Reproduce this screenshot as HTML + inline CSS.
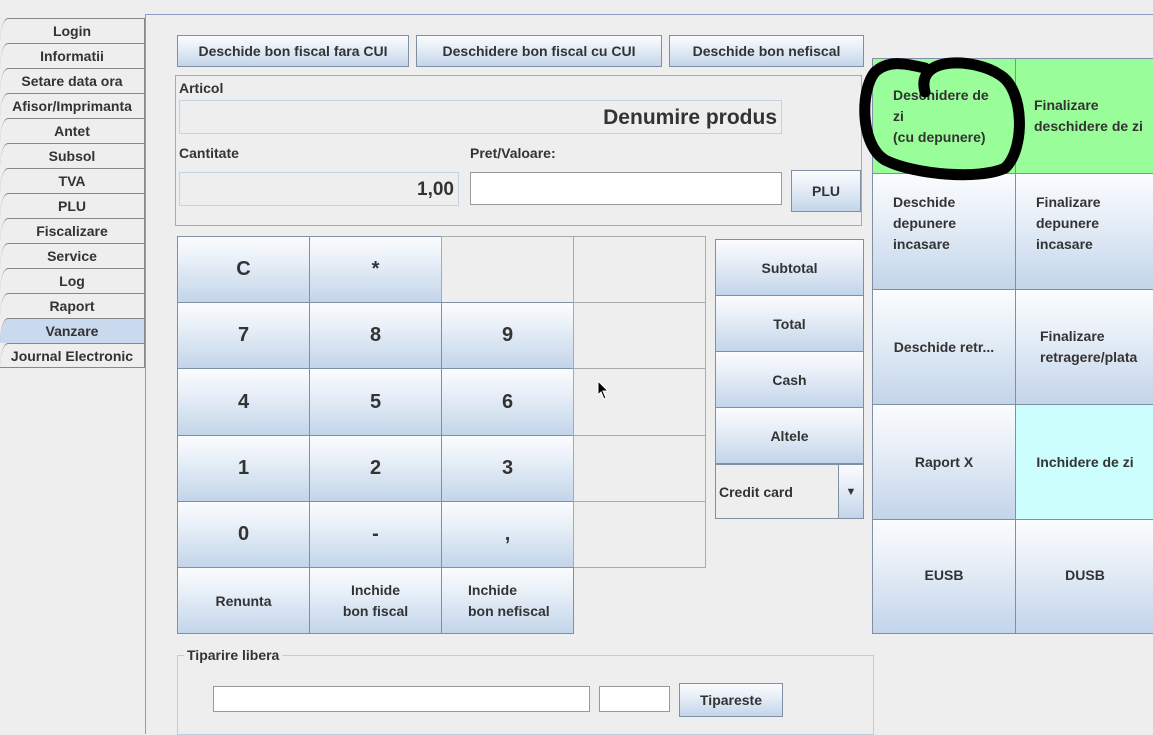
<!DOCTYPE html>
<html><head><meta charset="utf-8"><style>
*{box-sizing:border-box;margin:0;padding:0}
body{width:1153px;height:720px;overflow:hidden;background:#eeeeee;position:relative;font-family:"Liberation Sans Narrow","Liberation Sans",sans-serif;font-weight:bold;color:#333}
.a{position:absolute}
.b{position:absolute;border:1px solid #7f8fa4;background:linear-gradient(#fbfcfe 0%,#e9f0f8 35%,#c3d5ea 100%);display:flex;align-items:center;justify-content:center;text-align:center;font-size:14px;color:#333}
.k{font-size:20px}
.f{position:absolute;border:1px solid #aaa;background:#eeeeee}
.t{position:absolute;left:0;width:145px;height:25px;border-top:1px solid #888;border-right:1px solid #888;text-align:center;font-size:14px;line-height:24px;border-top-left-radius:8px 24px}
.g{position:absolute;border:1px solid #7f8fa4;display:flex;align-items:center;font-size:14px;padding-bottom:16px;line-height:21px;background:linear-gradient(#fbfcfe 0%,#e9f0f8 35%,#c3d5ea 100%)}
.lbl{position:absolute;font-size:14px;color:#333}
</style></head><body>
<div class="a" style="left:145px;top:14px;width:1010px;height:720px;border-left:1px solid #8a9cc0;border-top:1px solid #8a9cc0"></div>

<div class="t" style="top:18px">Login</div>
<div class="t" style="top:43px">Informatii</div>
<div class="t" style="top:68px">Setare data ora</div>
<div class="t" style="top:93px">Afisor/Imprimanta</div>
<div class="t" style="top:118px">Antet</div>
<div class="t" style="top:143px">Subsol</div>
<div class="t" style="top:168px">TVA</div>
<div class="t" style="top:193px">PLU</div>
<div class="t" style="top:218px">Fiscalizare</div>
<div class="t" style="top:243px">Service</div>
<div class="t" style="top:268px">Log</div>
<div class="t" style="top:293px">Raport</div>
<div class="t" style="top:318px;background:#c9d9ee">Vanzare</div>
<div class="t" style="top:343px;border-bottom:1px solid #888;height:25px">Journal Electronic</div>

<div class="b" style="left:177px;top:35px;width:232px;height:32px">Deschide bon fiscal fara CUI</div>
<div class="b" style="left:416px;top:35px;width:246px;height:32px">Deschidere bon fiscal cu CUI</div>
<div class="b" style="left:669px;top:35px;width:195px;height:32px">Deschide bon nefiscal</div>

<div class="a" style="left:175px;top:75px;width:687px;height:151px;border:1px solid #aaa"></div>
<div class="lbl" style="left:179px;top:80px">Articol</div>
<div class="a" style="left:179px;top:100px;width:603px;height:34px;border:1px solid #c5d3e0;font-size:21px;text-align:right;padding-right:4px;line-height:33px">Denumire produs</div>
<div class="lbl" style="left:179px;top:145px">Cantitate</div>
<div class="lbl" style="left:470px;top:145px">Pret/Valoare:</div>
<div class="a" style="left:179px;top:172px;width:280px;height:34px;border:1px solid #c5d3e0;font-size:19px;text-align:right;padding-right:4px;line-height:33px">1,00</div>
<div class="a" style="left:470px;top:172px;width:312px;height:33px;border:1px solid #999;background:#fff"></div>
<div class="b" style="left:791px;top:170px;width:70px;height:42px">PLU</div>

<div class="b k" style="left:177px;top:236px;width:133px;height:67px">C</div>
<div class="b k" style="left:309px;top:236px;width:133px;height:67px">*</div>
<div class="f" style="left:441px;top:236px;width:133px;height:67px"></div>
<div class="f" style="left:573px;top:236px;width:133px;height:67px"></div>
<div class="b k" style="left:177px;top:302px;width:133px;height:67px">7</div>
<div class="b k" style="left:309px;top:302px;width:133px;height:67px">8</div>
<div class="b k" style="left:441px;top:302px;width:133px;height:67px">9</div>
<div class="f" style="left:573px;top:302px;width:133px;height:67px"></div>
<div class="b k" style="left:177px;top:368px;width:133px;height:68px">4</div>
<div class="b k" style="left:309px;top:368px;width:133px;height:68px">5</div>
<div class="b k" style="left:441px;top:368px;width:133px;height:68px">6</div>
<div class="f" style="left:573px;top:368px;width:133px;height:68px"></div>
<div class="b k" style="left:177px;top:435px;width:133px;height:67px">1</div>
<div class="b k" style="left:309px;top:435px;width:133px;height:67px">2</div>
<div class="b k" style="left:441px;top:435px;width:133px;height:67px">3</div>
<div class="f" style="left:573px;top:435px;width:133px;height:67px"></div>
<div class="b k" style="left:177px;top:501px;width:133px;height:67px">0</div>
<div class="b k" style="left:309px;top:501px;width:133px;height:67px">-</div>
<div class="b k" style="left:441px;top:501px;width:133px;height:67px">,</div>
<div class="f" style="left:573px;top:501px;width:133px;height:67px"></div>
<div class="b" style="left:177px;top:567px;width:133px;height:67px">Renunta</div>
<div class="b" style="left:309px;top:567px;width:133px;height:67px;line-height:21px">Inchide<br>bon fiscal</div>
<div class="b" style="left:441px;top:567px;width:133px;height:67px;line-height:21px;text-align:left;justify-content:flex-start;padding-left:26px">Inchide<br>bon nefiscal</div>
<svg class="a" style="left:597px;top:380px" width="14" height="22"><path d="M1 1 L1 15 L4 12 L7 19 L9 18 L6 11 L11 11 Z" fill="#000" stroke="#fff" stroke-width="1"/></svg>

<div class="b" style="left:715px;top:239px;width:149px;height:57px">Subtotal</div>
<div class="b" style="left:715px;top:295px;width:149px;height:57px;align-items:flex-start;padding-top:20px">Total</div>
<div class="b" style="left:715px;top:351px;width:149px;height:57px;align-items:flex-start;padding-top:20px">Cash</div>
<div class="b" style="left:715px;top:407px;width:149px;height:57px;align-items:flex-start;padding-top:20px">Altele</div>
<div class="a" style="left:715px;top:464px;width:149px;height:55px;border:1px solid #7f8fa4;background:#eeeeee;font-size:14px;line-height:55px;padding-left:3px">Credit card</div>
<div class="b" style="left:838px;top:464px;width:26px;height:55px;font-size:11px">▼</div>

<div class="g" style="left:872px;top:58px;width:144px;height:116px;background:#99fd99;padding-left:20px;padding-bottom:0">Deschidere de<br>zi<br>(cu depunere)</div>
<div class="g" style="left:1015px;top:58px;width:140px;height:116px;background:#99fd99;padding-left:18px;padding-bottom:0">Finalizare<br>deschidere de zi</div>
<div class="g" style="left:872px;top:173px;width:144px;height:117px;padding-left:20px">Deschide<br>depunere<br>incasare</div>
<div class="g" style="left:1015px;top:173px;width:140px;height:117px;padding-left:20px">Finalizare<br>depunere<br>incasare</div>
<div class="g" style="left:872px;top:289px;width:144px;height:116px;justify-content:center;padding-bottom:0">Deschide retr...</div>
<div class="g" style="left:1015px;top:289px;width:140px;height:116px;padding-left:24px;padding-bottom:0">Finalizare<br>retragere/plata</div>
<div class="g" style="left:872px;top:404px;width:144px;height:116px;justify-content:center;padding-bottom:0">Raport X</div>
<div class="g" style="left:1015px;top:404px;width:140px;height:116px;justify-content:center;padding-bottom:0;background:#ccfefe">Inchidere de zi</div>
<div class="g" style="left:872px;top:519px;width:144px;height:115px;justify-content:center;padding-bottom:3px">EUSB</div>
<div class="g" style="left:1015px;top:519px;width:140px;height:115px;justify-content:center;padding-bottom:3px">DUSB</div>

<svg class="a" style="left:855px;top:50px" width="175" height="135"><path d="M70 42 C60 5,120 8,145 25 C170 40,170 100,150 118 C125 130,60 125,30 110 C5 95,5 40,20 22 C35 8,55 15,70 18" fill="none" stroke="#000" stroke-width="11" stroke-linecap="round"/></svg>

<div class="a" style="left:177px;top:655px;width:697px;height:80px;border:1px solid #c0cedc"></div>
<div class="lbl" style="left:184px;top:647px;background:#eeeeee;padding:0 3px">Tiparire libera</div>
<div class="a" style="left:213px;top:686px;width:377px;height:26px;border:1px solid #999;background:#fff"></div>
<div class="a" style="left:599px;top:686px;width:71px;height:26px;border:1px solid #999;background:#fff"></div>
<div class="b" style="left:679px;top:683px;width:104px;height:34px">Tipareste</div>
</body></html>
